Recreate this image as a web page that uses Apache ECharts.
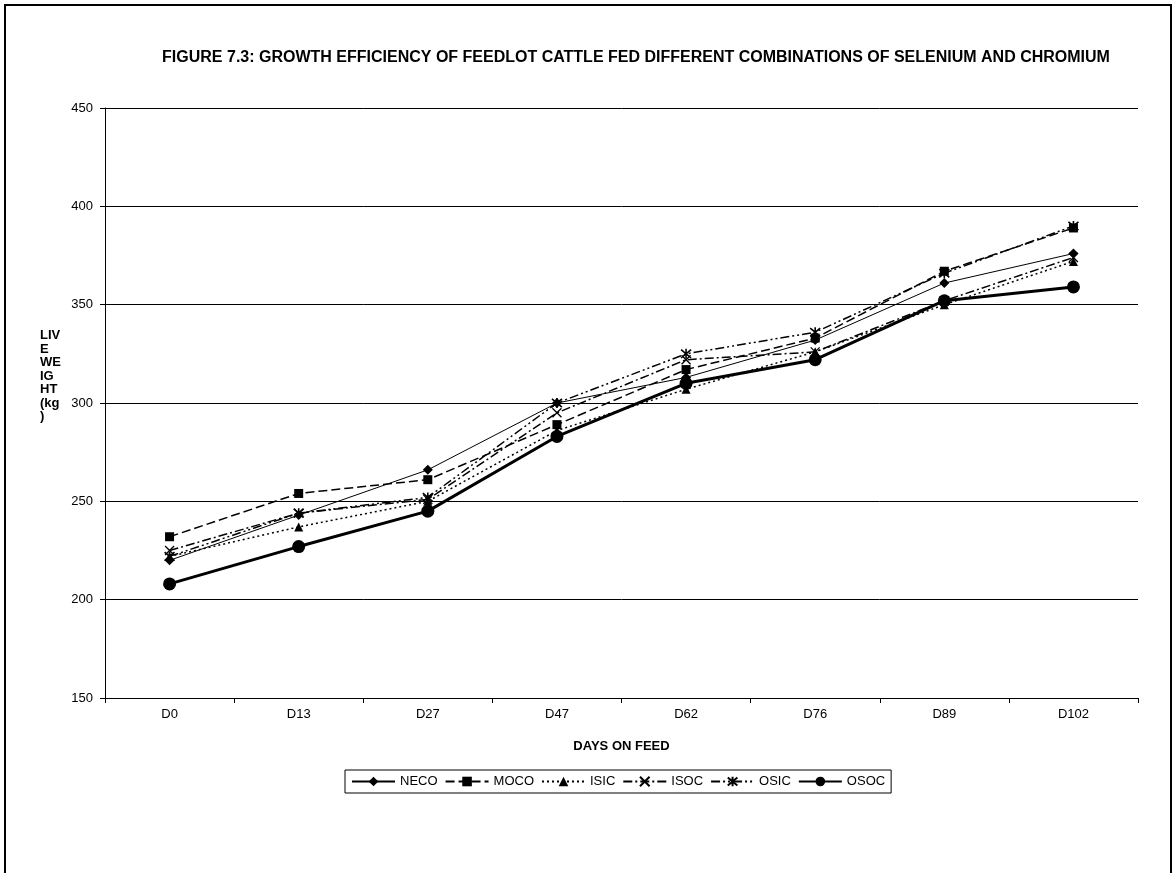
<!DOCTYPE html>
<html>
<head>
<meta charset="utf-8">
<style>
  html, body { margin: 0; padding: 0; background: #fff; }
  #chart { width: 1176px; height: 873px; }
</style>
<script src="https://cdn.jsdelivr.net/npm/echarts@6/dist/echarts.min.js"></script>
</head>
<body>
<div id="chart"></div>
<script>
// Feeding days (x categories)
const days = ['D0', 'D13', 'D27', 'D47', 'D62', 'D76', 'D89', 'D102'];

// Live weight (kg) per treatment group
const neco = [220, 243, 266, 300, 313, 332, 361, 376];
const moco = [232, 254, 261, 289, 317, 333, 367, 389];
const isic = [222, 237, 250, 286, 307, 326, 350, 372];
const isoc = [225, 244, 251, 295, 322, 326, 352, 374];
const osic = [222, 244, 252, 300, 325, 336, 366, 390];
const osoc = [208, 227, 245, 283, 310, 322, 352, 359];

const yTicks = { min: 150, max: 450, step: 50 };

const FONT = '"Liberation Sans", Arial, sans-serif';

// stroke-only marker shapes
const crossPath = 'path://M0,0L10,10M10,0L0,10';
const starPath = 'path://M0,0L10,10M10,0L0,10M5,-1L5,11';

function lineSeries(name, data, opts) {
  return Object.assign({
    name: name,
    type: 'line',
    data: data,
    symbolSize: 8,
    showAllSymbol: true,
    animation: false,
    z: 3
  }, opts);
}

const chart = echarts.init(document.getElementById('chart'), null, { renderer: 'canvas' });

chart.setOption({
  animation: false,
  backgroundColor: '#ffffff',
  textStyle: { fontFamily: FONT, color: '#000' },
  title: {
    text: 'FIGURE 7.3: GROWTH EFFICIENCY OF FEEDLOT CATTLE FED DIFFERENT COMBINATIONS OF SELENIUM AND CHROMIUM',
    left: 631,
    textAlign: 'center',
    top: 45,
    textStyle: { fontFamily: FONT, fontSize: 16, fontWeight: 'bold', color: '#000' }
  },
  grid: { left: 105, right: 38, top: 108, bottom: 175, containLabel: false },
  xAxis: {
    type: 'category',
    data: days,
    boundaryGap: true,
    name: 'DAYS ON FEED',
    nameLocation: 'middle',
    nameGap: 42,
    nameTextStyle: { fontFamily: FONT, fontSize: 13, fontWeight: 'bold', color: '#000' },
    axisLine: { lineStyle: { color: '#000', width: 1 } },
    axisTick: { show: true, inside: false, length: 5, lineStyle: { color: '#000' } },
    axisLabel: { fontFamily: FONT, fontSize: 13, color: '#000', margin: 10 },
    splitLine: { show: false }
  },
  yAxis: {
    type: 'value',
    min: yTicks.min,
    max: yTicks.max,
    interval: yTicks.step,
    axisLine: { show: true, lineStyle: { color: '#000', width: 1 } },
    axisTick: { show: true, inside: false, length: 5, lineStyle: { color: '#000' } },
    axisLabel: { fontFamily: FONT, fontSize: 13, color: '#000', margin: 12 },
    splitLine: { show: true, lineStyle: { color: '#000', width: 1 } }
  },
  legend: {
    left: 345,
    top: 770,
    orient: 'horizontal',
    itemWidth: 43,
    itemHeight: 12,
    itemGap: 7,
    padding: [5, 6, 5, 6],
    borderColor: '#000',
    borderWidth: 1,
    textStyle: { fontFamily: FONT, fontSize: 13, color: '#000' },
    data: ['NECO', 'MOCO', 'ISIC', 'ISOC', 'OSIC', 'OSOC']
  },
  graphic: [
    {
      type: 'rect',
      shape: { x: 5, y: 5, width: 1166, height: 880 },
      style: { fill: 'none', stroke: '#000', lineWidth: 2 },
      silent: true,
      z: -1
    },
    {
      type: 'text',
      left: 40,
      top: 329,
      style: {
        text: 'LIV\nE\nWE\nIG\nHT\n(kg\n)',
        font: 'bold 13px ' + FONT,
        fill: '#000',
        lineHeight: 13.5
      }
    }
  ],
  series: [
    lineSeries('NECO', neco, {
      symbol: 'diamond', symbolSize: 10,
      lineStyle: { color: '#000', width: 1, type: 'solid' },
      itemStyle: { color: '#000' }
    }),
    lineSeries('MOCO', moco, {
      symbol: 'rect', symbolSize: 9,
      lineStyle: { color: '#000', width: 1.5, type: [9, 4] },
      itemStyle: { color: '#000' }
    }),
    lineSeries('ISIC', isic, {
      symbol: 'triangle', symbolSize: 9,
      lineStyle: { color: '#000', width: 1.5, type: [2, 3] },
      itemStyle: { color: '#000' }
    }),
    lineSeries('ISOC', isoc, {
      symbol: crossPath, symbolSize: 9,
      lineStyle: { color: '#000', width: 1.5, type: [9, 3, 2, 3] },
      itemStyle: { color: 'rgba(0,0,0,0)', borderColor: '#000', borderWidth: 1.3 }
    }),
    lineSeries('OSIC', osic, {
      symbol: starPath, symbolSize: 10,
      lineStyle: { color: '#000', width: 1.5, type: [9, 3, 2, 3, 2, 3] },
      itemStyle: { color: 'rgba(0,0,0,0)', borderColor: '#000', borderWidth: 1.6 }
    }),
    lineSeries('OSOC', osoc, {
      symbol: 'circle', symbolSize: 13,
      lineStyle: { color: '#000', width: 3, type: 'solid' },
      itemStyle: { color: '#000' }
    })
  ]
});
</script>
</body>
</html>
